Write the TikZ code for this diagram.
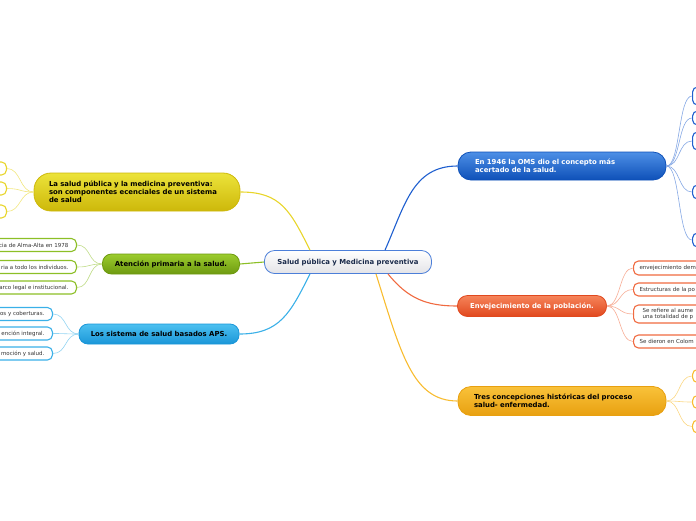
\documentclass[tikz,border=0pt]{standalone}
\usepackage{fontspec}
\setmainfont{DejaVu Sans}
\usetikzlibrary{calc}
\definecolor{bluelink}{HTML}{1F5FCF}
\definecolor{bluetop}{HTML}{4D8FE6}
\definecolor{bluebot}{HTML}{0E50B8}
\definecolor{yeltop}{HTML}{ECE33A}
\definecolor{yelbot}{HTML}{CDB80A}
\definecolor{yellink}{HTML}{E8D52A}
\definecolor{grntop}{HTML}{9CCC2E}
\definecolor{grnbot}{HTML}{6E9A10}
\definecolor{grnlink}{HTML}{8CBF26}
\definecolor{lbtop}{HTML}{4CC0F0}
\definecolor{lbbot}{HTML}{1A96D8}
\definecolor{lblink}{HTML}{3AB0E8}
\definecolor{ortop}{HTML}{F5845A}
\definecolor{orbot}{HTML}{E0481E}
\definecolor{orlink}{HTML}{F06A40}
\definecolor{yotop}{HTML}{F9C23A}
\definecolor{yobot}{HTML}{E8A010}
\definecolor{yolink}{HTML}{F8BC30}
\definecolor{navy}{HTML}{1A2A4A}
\definecolor{leaftext}{HTML}{333333}
\tikzset{
  mainnode/.style={draw, line width=0.8pt, font=\fontsize{6.9}{8.2}\selectfont\bfseries, inner ysep=0pt},
  leafbox/.style={draw, fill=white, line width=1.1pt, rounded corners=5pt, inner ysep=0pt,
    font=\fontsize{5.5}{6.8}\selectfont, text=leaftext},
  link/.style={line width=1.1pt},
  sublink/.style={line width=0.6pt},
}
\begin{document}
\begin{tikzpicture}[x=1pt,y=-1pt]
\useasboundingbox (0,0) rectangle (696,520);
\clip (0,0) rectangle (696,520);

% ---------- main nodes ----------
\node[mainnode, draw=bluelink!80, rounded corners=10pt, top color=white, bottom color=blue!8!gray!20,
  minimum width=167, minimum height=23, text=navy] (c) at (348,262) {Salud pública y Medicina preventiva};

\node[mainnode, draw=bluebot, rounded corners=13pt, top color=bluetop, bottom color=bluebot, text=white,
  minimum width=208, minimum height=28, text width=174, inner xsep=17, align=left] (b) at (562,166)
  {En 1946 la OMS dio el concepto más\\acertado de la salud.};

\node[mainnode, draw=orbot, rounded corners=10pt, top color=ortop, bottom color=orbot, text=white,
  minimum width=149, minimum height=21] (o) at (532,306) {Envejecimiento de la población.};

\node[mainnode, draw=yobot, rounded corners=13pt, top color=yotop, bottom color=yobot, text=black,
  minimum width=208, minimum height=29, text width=176, inner xsep=16, align=left] (yo) at (562,401)
  {Tres concepciones históricas del proceso\\salud- enfermedad.};

\node[mainnode, draw=yelbot, rounded corners=17pt, top color=yeltop, bottom color=yelbot, text=black,
  minimum width=206, minimum height=38, text width=176, inner xsep=15, align=left] (y) at (137,192)
  {La salud pública y la medicina preventiva:\\son componentes ecenciales de un sistema\\de salud};

\node[mainnode, draw=grnbot, rounded corners=9pt, top color=grntop, bottom color=grnbot, text=black,
  minimum width=137, minimum height=20] (g) at (171,264) {Atención primaria a la salud.};

\node[mainnode, draw=lbbot, rounded corners=9pt, top color=lbtop, bottom color=lbbot, text=black,
  minimum width=160, minimum height=20] (l) at (159,334) {Los sistema de salud basados APS.};

% ---------- main links ----------
\draw[link, bluelink] ($(c.north)+(37,0)$) .. controls +(20,-45) and +(-45,0) .. (b.west);
\draw[link, yellink] ($(c.north)+(-38,0)$) .. controls +(-20,-40) and +(40,0) .. (y.east);
\draw[link, grnlink] (c.west) -- (g.east);
\draw[link, lblink] ($(c.south)+(-38,0)$) .. controls +(-20,40) and +(40,0) .. (l.east);
\draw[link, orlink] ($(c.south)+(40,0)$) .. controls +(20,25) and +(-30,0) .. (o.west);
\draw[link, yolink] ($(c.south)+(28,0)$) .. controls +(25,80) and +(-45,0) .. (yo.west);

% ---------- blue leaves ----------
\foreach \n/\yy/\hh in {b1/96/18, b2/118/14, b3/141/18, b4/192/14, b5/240/14}{
  \node[leafbox, draw=bluelink, anchor=west, minimum width=40, minimum height=\hh] (\n) at (692,\yy) {};
  \draw[sublink, bluelink!55] (b.east) .. controls +(14,0) and +(-14,0) .. (\n.west);
}

% ---------- orange leaves ----------
\node[leafbox, draw=orlink, anchor=west, minimum width=90, minimum height=14, text width=78, inner xsep=6, align=left] (o1) at (633,268) {envejecimiento dem};
\node[leafbox, draw=orlink, anchor=west, minimum width=90, minimum height=13, text width=78, inner xsep=6, align=left] (o2) at (633,289.5) {Estructuras de la po};
\node[leafbox, draw=orlink, anchor=west, minimum width=90, minimum height=18, text width=78, inner xsep=6, align=left] (o3) at (633,314) {\hspace*{3pt}Se refiere al aume\\\hspace*{3pt}una totalidad de p};
\node[leafbox, draw=orlink, anchor=west, minimum width=90, minimum height=13, text width=78, inner xsep=6, align=left] (o4) at (633,341.5) {Se dieron en Colom};
\foreach \n in {o1,o2,o3,o4}{
  \draw[sublink, orlink!55] (o.east) .. controls +(14,0) and +(-14,0) .. (\n.west);
}

% ---------- yellow-orange leaves ----------
\foreach \n/\yy in {yo1/376, yo2/402, yo3/426.5}{
  \node[leafbox, draw=yolink, anchor=west, minimum width=40, minimum height=13] (\n) at (692,\yy) {};
  \draw[sublink, yolink!60] (yo.east) .. controls +(14,0) and +(-14,0) .. (\n.west);
}

% ---------- yellow leaves (left) ----------
\foreach \n/\yy in {y1/168.5, y2/188.5, y3/211.5}{
  \node[leafbox, draw=yellink, anchor=east, minimum width=40, minimum height=13] (\n) at (7,\yy) {};
  \draw[sublink, yellink!60] (y.west) .. controls +(-14,0) and +(14,0) .. (\n.east);
}

% ---------- green leaves (left) ----------
\node[leafbox, draw=grnlink, anchor=east, minimum height=13, inner xsep=8] (g1) at (77,245) {cia de Alma-Alta en 1978};
\node[leafbox, draw=grnlink, anchor=east, minimum height=13, inner xsep=8] (g2) at (77,267) {ria a todo los individuos.};
\node[leafbox, draw=grnlink, anchor=east, minimum height=13, inner xsep=8] (g3) at (77,287.5) {arco legal e institucional.};
\foreach \n in {g1,g2,g3}{
  \draw[sublink, grnlink!55] (g.west) .. controls +(-14,0) and +(14,0) .. (\n.east);
}

% ---------- light-blue leaves (left) ----------
\node[leafbox, draw=lblink, anchor=east, minimum height=13, inner xsep=8] (l1) at (53,314) {os y coberturas.};
\node[leafbox, draw=lblink, anchor=east, minimum height=13, inner xsep=8] (l2) at (53,333.5) {ención integral.};
\node[leafbox, draw=lblink, anchor=east, minimum height=13, inner xsep=8] (l3) at (53,353.5) {moción y salud.};
\foreach \n in {l1,l2,l3}{
  \draw[sublink, lblink!55] (l.west) .. controls +(-14,0) and +(14,0) .. (\n.east);
}
\end{tikzpicture}
\end{document}
